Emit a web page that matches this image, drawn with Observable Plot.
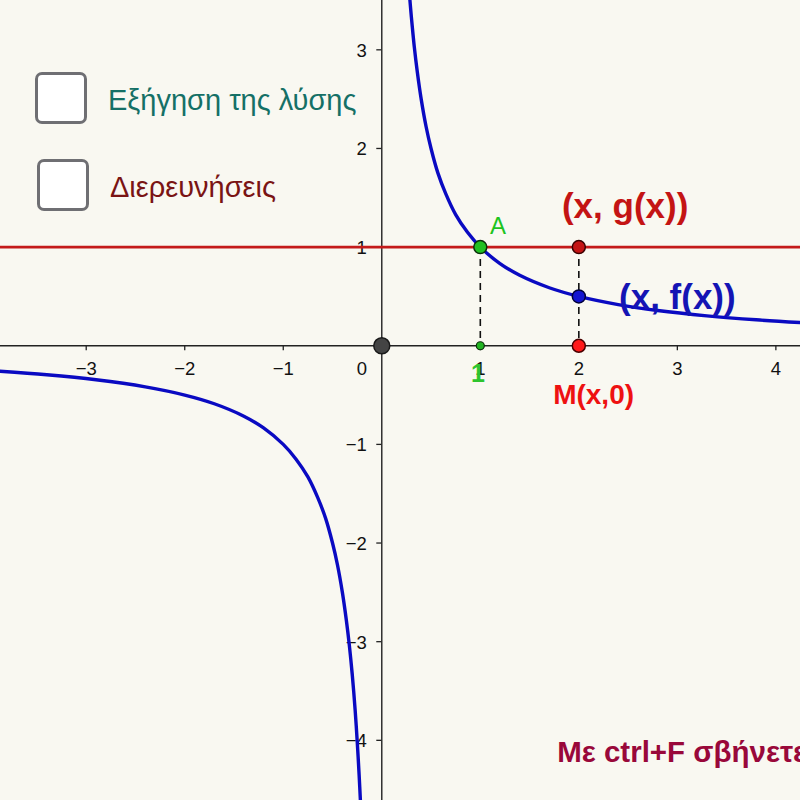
<!DOCTYPE html>
<html>
<head>
<meta charset="utf-8">
<script src="https://cdn.jsdelivr.net/npm/d3@7"></script>
<script src="https://cdn.jsdelivr.net/npm/@observablehq/plot@0.6"></script>
<style>
  html, body { margin: 0; padding: 0; background: #f9f8f1; }
  #wrap { position: relative; width: 800px; height: 800px; overflow: hidden; font-family: "Liberation Sans", Arial, sans-serif; }
  .cb { position: absolute; width: 46px; height: 46px; background: #fff; border: 3px solid #6f6f73; border-radius: 7px; box-sizing: content-box; }
  .cblabel { position: absolute; font-size: 29px; line-height: 1; white-space: nowrap; }
</style>
</head>
<body>
<div id="wrap"></div>
<script>
// ---- data ----
const xDomain = [-3.87, 4.25];
const yDomain = [-4.61, 3.50];

const xTicks = [-3, -2, -1, 1, 2, 3, 4];
const xTickLabels = ["−3", "−2", "−1", "1", "2", "3", "4"];
const yTicks = [-4, -3, -2, -1, 1, 2, 3];
const yTickLabels = ["−4", "−3", "−2", "−1", "1", "2", "3"];

// f(x) branches
const fRightX = [0.275, 0.29, 0.31, 0.33, 0.36, 0.4, 0.45, 0.5, 0.57, 0.65, 0.75, 0.87, 1, 1.2, 1.4, 1.7, 2, 2.4, 2.8, 3.3, 3.8, 4.3];
const fRightY = [3.64, 3.45, 3.23, 3.03, 2.78, 2.5, 2.22, 2.0, 1.75, 1.54, 1.33, 1.15, 1.0, 0.833, 0.714, 0.588, 0.5, 0.417, 0.357, 0.303, 0.263, 0.233];
const fLeftX = [-3.9, -3.4, -2.9, -2.4, -2.0, -1.7, -1.4, -1.2, -1.0, -0.87, -0.75, -0.65, -0.57, -0.5, -0.45, -0.4, -0.36, -0.33, -0.3, -0.27, -0.25, -0.23, -0.215];
const fLeftY = [-0.256, -0.294, -0.345, -0.417, -0.5, -0.588, -0.714, -0.833, -1.0, -1.15, -1.33, -1.54, -1.75, -2.0, -2.22, -2.5, -2.78, -3.03, -3.33, -3.70, -4.0, -4.35, -4.65];

const gValue = 1;           // g(x) = 1
const pointA = [1, 1];
const xM = 2;
const fAtM = 0.5;

// ---- build ----
const right = fRightX.map((x, i) => ({x, y: fRightY[i]}));
const left = fLeftX.map((x, i) => ({x, y: fLeftY[i]}));
const font = "Liberation Sans, Arial, sans-serif";

const plot = Plot.plot({
  width: 800, height: 800,
  margin: 0,
  x: {domain: xDomain, axis: null},
  y: {domain: yDomain, axis: null},
  style: {background: "transparent", fontFamily: font, overflow: "hidden"},
  marks: [
    // axes
    Plot.ruleY([0], {stroke: "#222", strokeWidth: 1.4}),
    Plot.ruleX([0], {stroke: "#222", strokeWidth: 1.4}),
    Plot.ruleX(xTicks, {x: d => d, y1: 0, y2: 0, insetTop: 0, insetBottom: -5, stroke: "#222", strokeWidth: 1.3}),
    Plot.ruleY(yTicks, {y: d => d, x1: 0, x2: 0, insetLeft: -5, insetRight: 0, stroke: "#222", strokeWidth: 1.3}),
    Plot.text(xTicks, {x: d => d, y: 0, text: (d, i) => xTickLabels[i], dy: 23, fontSize: 18.5, fill: "#111"}),
    Plot.text([0], {x: 0, y: 0, text: ["0"], dx: -20, dy: 23, fontSize: 18.5, fill: "#111"}),
    Plot.text(yTicks, {x: 0, y: d => d, text: (d, i) => yTickLabels[i], dx: -15, dy: 1, textAnchor: "end", fontSize: 18.5, fill: "#111"}),
    // g(x)
    Plot.ruleY([gValue], {stroke: "#c41a1a", strokeWidth: 2.7}),
    // f(x)
    Plot.line(right, {x: "x", y: "y", curve: "catmull-rom", stroke: "#0a0ac2", strokeWidth: 3.4}),
    Plot.line(left, {x: "x", y: "y", curve: "catmull-rom", stroke: "#0a0ac2", strokeWidth: 3.4}),
    // dashed verticals
    Plot.link([pointA], {x1: d => d[0], x2: d => d[0], y1: d => d[1], y2: 0, stroke: "#111", strokeWidth: 1.6, strokeDasharray: "7,5"}),
    Plot.link([xM], {x1: d => d, x2: d => d, y1: gValue, y2: 0, stroke: "#111", strokeWidth: 1.6, strokeDasharray: "7,5"}),
    // points
    Plot.dot([[0, 0]], {x: d => d[0], y: d => d[1], r: 8, fill: "#444", stroke: "#1a1a1a", strokeWidth: 1.5}),
    Plot.dot([pointA], {x: d => d[0], y: 0, r: 4, fill: "#22b422", stroke: "#0a300a", strokeWidth: 1.2}),
    Plot.dot([pointA], {x: d => d[0], y: d => d[1], r: 6.5, fill: "#22c022", stroke: "#0a300a", strokeWidth: 1.5}),
    Plot.dot([xM], {x: d => d, y: gValue, r: 6.5, fill: "#c41414", stroke: "#3a0000", strokeWidth: 1.5}),
    Plot.dot([xM], {x: d => d, y: fAtM, r: 6.5, fill: "#1414d0", stroke: "#00003a", strokeWidth: 1.5}),
    Plot.dot([xM], {x: d => d, y: 0, r: 6.5, fill: "#ff1a1a", stroke: "#4a0000", strokeWidth: 1.5}),
    // labels
    Plot.text(["A"], {x: 1.18, y: 1.21, text: d => d, fontSize: 24, fill: "#1ec41e"}),
    Plot.text(["1"], {x: 0.975, y: -0.29, text: d => d, fontSize: 25, fontWeight: "bold", fill: "#2ec42e"}),
    Plot.text(["(x, g(x))"], {x: 2.47, y: 1.41, text: d => d, fontSize: 35, fontWeight: "bold", fill: "#c41414"}),
    Plot.text(["(x, f(x))"], {x: 3.0, y: 0.49, text: d => d, fontSize: 35, fontWeight: "bold", fill: "#1414b4"}),
    Plot.text(["M(x,0)"], {x: 2.15, y: -0.5, text: d => d, fontSize: 28, fontWeight: "bold", fill: "#ee1111"}),
    Plot.text(["Με ctrl+F σβήνετε"], {x: 1.78, y: -4.12, text: d => d, textAnchor: "start", fontSize: 29.5, fontWeight: "bold", fill: "#99083a"})
  ]
});

const wrap = document.getElementById("wrap");
wrap.appendChild(plot);

function addCheckbox(left, top, label, color, labelLeft, labelTop) {
  const b = document.createElement("div");
  b.className = "cb";
  b.style.left = left + "px";
  b.style.top = top + "px";
  wrap.appendChild(b);
  const t = document.createElement("div");
  t.className = "cblabel";
  t.style.left = labelLeft + "px";
  t.style.top = labelTop + "px";
  t.style.color = color;
  t.textContent = label;
  wrap.appendChild(t);
}
addCheckbox(35, 72, "Εξήγηση της λύσης", "#157066", 108, 86);
addCheckbox(37, 159, "Διερευνήσεις", "#7a1414", 110, 173);
</script>
</body>
</html>
